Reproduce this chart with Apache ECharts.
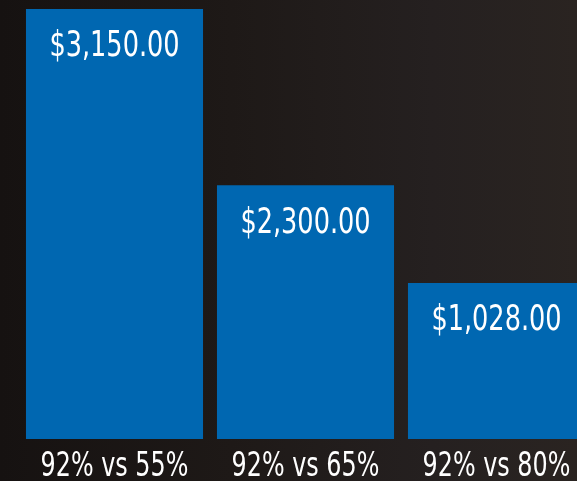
<!DOCTYPE html>
<html>
<head>
<meta charset="utf-8">
<script src="https://cdn.jsdelivr.net/npm/echarts@6/dist/echarts.min.js"></script>
<style>
html,body{margin:0;padding:0;background:#1c1816;}
#chart{width:577px;height:481px;}
</style>
</head>
<body>
<div id="chart"></div>
<script>
// Data
var categories = ['92% vs 55%', '92% vs 65%', '92% vs 80%'];
var amounts = [3150, 2300, 1028];
// relative bar heights as drawn in the picture (% of the tallest bar)
var barScale = [100, 59, 36.3];

function fmt(v) {
  return '$' + v.toLocaleString('en-US', {minimumFractionDigits: 2, maximumFractionDigits: 2});
}

var FONT_FAMILY = '"DejaVu Sans Condensed", "DejaVu Sans", sans-serif';

var chart = echarts.init(document.getElementById('chart'), null, {renderer: 'canvas'});

function textItem(x, y, txt, size, sx) {
  return {
    type: 'text',
    x: x, y: y,
    scaleX: sx, scaleY: 1,
    z2: 10,
    style: {
      x: 0, y: 0,
      text: txt,
      fill: '#ffffff',
      font: 'normal ' + size + 'px ' + FONT_FAMILY,
      align: 'center',
      verticalAlign: 'middle'
    }
  };
}

chart.setOption({
  backgroundColor: {
    type: 'linear', x: 0, y: 0, x2: 1, y2: 0,
    colorStops: [
      {offset: 0, color: '#161211'},
      {offset: 0.4, color: '#1e1917'},
      {offset: 0.75, color: '#252020'},
      {offset: 1, color: '#2a2421'}
    ]
  },
  animation: false,
  grid: {left: 19, top: 9, width: 573, bottom: 42, containLabel: false, outerBoundsMode: 'none'},
  xAxis: {
    type: 'category',
    data: categories,
    axisLine: {show: false},
    axisTick: {show: false},
    axisLabel: {show: false}
  },
  yAxis: {
    type: 'value', min: 0, max: 100,
    show: false,
    splitLine: {show: false}
  },
  series: [{
    type: 'bar',
    z: 2,
    data: barScale,
    barCategoryGap: '7.3%',
    itemStyle: {color: '#0067b1'}
  }, {
    // value labels inside the top of each bar
    type: 'custom',
    z: 5,
    clip: false,
    data: barScale.map(function (v, i) { return [i, v]; }),
    renderItem: function (params, api) {
      var p = api.coord([api.value(0), api.value(1)]);
      return textItem(p[0], p[1] + 38, fmt(amounts[params.dataIndex]), 36, 0.79);
    }
  }, {
    // category labels under the bars
    type: 'custom',
    z: 5,
    clip: false,
    data: categories.map(function (c, i) { return [i, 0]; }),
    renderItem: function (params, api) {
      var p = api.coord([api.value(0), 0]);
      return textItem(p[0], p[1] + 28, categories[params.dataIndex], 34, 0.78);
    }
  }]
});
</script>
</body>
</html>
